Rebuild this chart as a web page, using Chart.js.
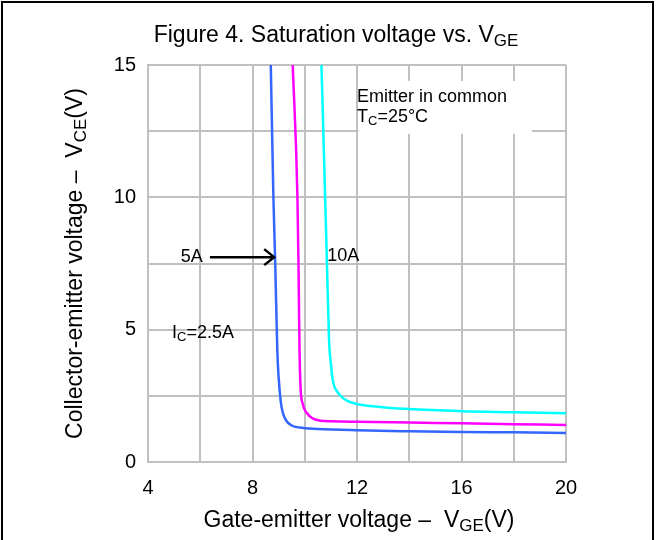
<!DOCTYPE html>
<html>
<head>
<meta charset="utf-8">
<script src="https://cdn.jsdelivr.net/npm/chart.js@4/dist/chart.umd.min.js"></script>
<style>
  body { margin: 0; background: #fff; }
  #wrap { width: 656px; height: 540px; }
</style>
</head>
<body>
<div id="wrap"><canvas id="vceChart" width="656" height="540"></canvas></div>
<script>
// curve data: VGE (V) / VCE (V)
const vge_2_5A = [8.70, 8.80, 8.87, 8.95, 9.00, 9.08, 9.15, 9.30, 9.50, 9.80, 10.5, 12, 14, 16, 18, 20];
const vce_2_5A = [15, 10, 7.5, 4.2, 3.2, 2.3, 1.9, 1.55, 1.38, 1.30, 1.25, 1.20, 1.16, 1.13, 1.12, 1.10];

const vge_5A = [9.54, 9.72, 9.76, 9.80, 9.84, 9.92, 10.08, 10.30, 10.60, 11.0, 12, 14, 16, 18, 20];
const vce_5A = [15, 10, 7.5, 4.2, 2.8, 2.2, 1.85, 1.65, 1.56, 1.54, 1.52, 1.49, 1.46, 1.43, 1.40];

const vge_10A = [10.64, 10.78, 10.85, 10.93, 11.00, 11.09, 11.25, 11.42, 11.65, 11.95, 12.5, 14, 16, 18, 20];
const vce_10A = [15, 10, 7.5, 4.6, 3.7, 3.0, 2.65, 2.45, 2.30, 2.20, 2.12, 2.00, 1.92, 1.88, 1.84];

const xTicks = [4, 8, 12, 16, 20];
const yTicks = [0, 5, 10, 15];

const FONT = '"Liberation Sans", Arial, sans-serif';

function pts(xs, ys) {
    return xs.map((x, i) => ({ x: x, y: ys[i] }));
}

// text with subscript parts
function drawParts(ctx, parts, x, y, align, size) {
    const subSize = Math.round(size * 0.72);
    let w = 0;
    parts.forEach(p => {
        ctx.font = (p.sub ? subSize : size) + 'px ' + FONT;
        w += ctx.measureText(p.t).width;
    });
    let cx = align === 'center' ? x - w / 2 : (align === 'right' ? x - w : x);
    ctx.textAlign = 'left';
    ctx.textBaseline = 'middle';
    parts.forEach(p => {
        ctx.font = (p.sub ? subSize : size) + 'px ' + FONT;
        ctx.fillText(p.t, cx, p.sub ? y + size * 0.22 : y);
        cx += ctx.measureText(p.t).width;
    });
}

const decor = {
    id: 'decor',
    beforeDatasetsDraw(chart) {
        // white box behind the conditions note
        const ctx = chart.ctx, xs = chart.scales.x, ys = chart.scales.y;
        ctx.save();
        ctx.fillStyle = '#fff';
        const x0 = xs.getPixelForValue(12.06), x1 = xs.getPixelForValue(18.7);
        const y0 = ys.getPixelForValue(14.4), y1 = ys.getPixelForValue(12.4);
        ctx.fillRect(x0, y0, x1 - x0, y1 - y0);
        ctx.restore();
    },
    afterDraw(chart) {
        const ctx = chart.ctx, xs = chart.scales.x, ys = chart.scales.y;
        const W = chart.width;
        ctx.save();
        ctx.fillStyle = '#000';

        // frame
        ctx.strokeStyle = '#000';
        ctx.lineWidth = 2;
        ctx.beginPath();
        ctx.moveTo(2, 540);
        ctx.lineTo(2, 2);
        ctx.lineTo(W - 3, 2);
        ctx.lineTo(W - 3, 540);
        ctx.stroke();

        // title
        drawParts(ctx, [{ t: 'Figure 4. Saturation voltage vs. V' }, { t: 'GE', sub: true }], 336, 36, 'center', 23);

        // axis titles
        const xc = (chart.chartArea.left + chart.chartArea.right) / 2;
        drawParts(ctx, [{ t: 'Gate-emitter voltage \u2013  V' }, { t: 'GE', sub: true }, { t: '(V)' }], xc + 2, 521, 'center', 23);
        ctx.save();
        ctx.translate(76, (chart.chartArea.top + chart.chartArea.bottom) / 2);
        ctx.rotate(-Math.PI / 2);
        drawParts(ctx, [{ t: 'Collector-emitter voltage \u2013  V' }, { t: 'CE', sub: true }, { t: '(V)' }], 0, 0, 'center', 23);
        ctx.restore();

        // notes
        drawParts(ctx, [{ t: 'Emitter in common' }], xs.getPixelForValue(12.0), ys.getPixelForValue(13.79), 'left', 18);
        drawParts(ctx, [{ t: 'T' }, { t: 'C', sub: true }, { t: '=25\u00b0C' }], xs.getPixelForValue(12.0), ys.getPixelForValue(13.03), 'left', 18);
        drawParts(ctx, [{ t: '5A' }], xs.getPixelForValue(6.1), ys.getPixelForValue(7.74), 'right', 18);
        drawParts(ctx, [{ t: '10A' }], xs.getPixelForValue(10.86), ys.getPixelForValue(7.8), 'left', 18);
        drawParts(ctx, [{ t: 'I' }, { t: 'C', sub: true }, { t: '=2.5A' }], xs.getPixelForValue(4.92), ys.getPixelForValue(4.87), 'left', 18);

        // arrow to the 5A curve
        const ax0 = xs.getPixelForValue(6.37), ax1 = xs.getPixelForValue(8.83), ay = ys.getPixelForValue(7.74);
        ctx.strokeStyle = '#000';
        ctx.lineWidth = 2.5;
        ctx.beginPath();
        ctx.moveTo(ax0, ay);
        ctx.lineTo(ax1, ay);
        ctx.moveTo(ax1 - 10, ay - 8);
        ctx.lineTo(ax1, ay);
        ctx.lineTo(ax1 - 10, ay + 8);
        ctx.stroke();
        ctx.restore();
    }
};

const common = { fill: false, pointRadius: 0, borderWidth: 2.5, tension: 0.35, cubicInterpolationMode: 'monotone' };

new Chart(document.getElementById('vceChart').getContext('2d'), {
    type: 'line',
    data: {
        datasets: [
            Object.assign({ label: '2.5A', data: pts(vge_2_5A, vce_2_5A), borderColor: '#3366ff' }, common),
            Object.assign({ label: '5A', data: pts(vge_5A, vce_5A), borderColor: '#ff00ff' }, common),
            Object.assign({ label: '10A', data: pts(vge_10A, vce_10A), borderColor: '#00ffff' }, common)
        ]
    },
    options: {
        responsive: false,
        animation: false,
        layout: { padding: { left: 0, right: 90, top: 65, bottom: 0 } },
        plugins: { legend: { display: false }, tooltip: { enabled: false } },
        scales: {
            x: {
                type: 'linear', min: 4, max: 20,
                grid: { color: '#c0c0c0', lineWidth: 2, drawTicks: false },
                border: { color: '#c0c0c0', width: 2 },
                ticks: {
                    stepSize: 2, padding: 14, color: '#000',
                    font: { size: 20, family: FONT },
                    callback: v => xTicks.includes(v) ? String(v) : ''
                },
                afterFit: s => { s.height = 78; }
            },
            y: {
                type: 'linear', min: 0, max: 15,
                grid: { color: '#c0c0c0', lineWidth: 2, drawTicks: false },
                border: { color: '#c0c0c0', width: 2 },
                ticks: {
                    stepSize: 2.5, padding: 12, color: '#000',
                    font: { size: 20, family: FONT },
                    callback: v => yTicks.includes(v) ? String(v) : ''
                },
                afterFit: s => { s.width = 148; }
            }
        }
    },
    plugins: [decor]
});
</script>
</body>
</html>
